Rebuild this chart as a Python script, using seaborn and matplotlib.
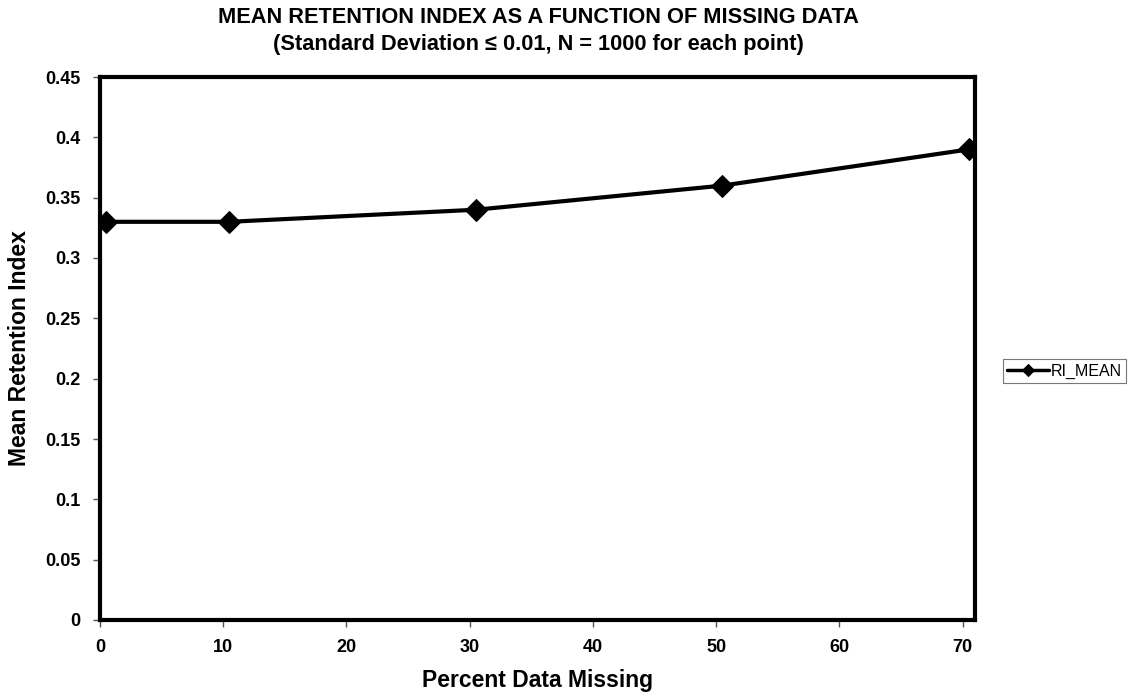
import matplotlib
matplotlib.use("Agg")
import matplotlib.pyplot as plt
import matplotlib.transforms as mtransforms
import seaborn as sns
import pandas as pd

# Data
percent_missing = [0.5, 10.5, 30.5, 50.5, 70.5]
ri_mean = [0.33, 0.33, 0.34, 0.36, 0.39]
x_ticks = [0, 10, 20, 30, 40, 50, 60, 70]
y_ticks = [0, 0.05, 0.1, 0.15, 0.2, 0.25, 0.3, 0.35, 0.4, 0.45]
y_tick_labels = ["0", "0.05", "0.1", "0.15", "0.2", "0.25", "0.3", "0.35", "0.4", "0.45"]

df = pd.DataFrame({"Percent Data Missing": percent_missing, "RI_MEAN": ri_mean})

sns.set_style("white")
plt.rcParams["font.family"] = ["Liberation Sans", "DejaVu Sans"]
plt.rcParams["text.color"] = "black"
plt.rcParams["axes.labelcolor"] = "black"
plt.rcParams["xtick.color"] = "black"
plt.rcParams["ytick.color"] = "black"

fig = plt.figure(figsize=(11.28, 6.96), dpi=100)
ax = fig.add_axes([100 / 1128, 1 - 620 / 696, 875 / 1128, 543 / 696])

sns.lineplot(data=df, x="Percent Data Missing", y="RI_MEAN", ax=ax, color="black",
             linewidth=3, marker="D", markersize=11, markeredgecolor="black",
             label="RI_MEAN")

ax.set_xlim(0, 71)
ax.set_ylim(0, 0.45)
ax.set_xticks(x_ticks)
ax.set_xticklabels([str(t) for t in x_ticks], fontsize=13, fontweight="bold")
ax.set_yticks(y_ticks)
ax.set_yticklabels(y_tick_labels, fontsize=13, fontweight="bold")
offset = mtransforms.ScaledTranslation(6 / 100, 0, fig.dpi_scale_trans)
for lbl in ax.get_xticklabels():
    lbl.set_transform(lbl.get_transform() + offset)

ax.tick_params(axis="both", direction="out", length=5, width=1)
ax.tick_params(axis="x", bottom=True, pad=9)
ax.tick_params(axis="y", left=True, pad=9)
ax.tick_params(axis="both", color="#555555")

for s in ax.spines.values():
    s.set_color("black")
    s.set_linewidth(3)

ax.set_xlabel("Percent Data Missing", fontsize=16.5, fontweight="bold", labelpad=9)
ax.set_ylabel("Mean Retention Index", fontsize=16.5, fontweight="bold", labelpad=10)

fig.text(538 / 1128, 1 - 31 / 696,
         "MEAN RETENTION INDEX AS A FUNCTION OF MISSING DATA\n(Standard Deviation \u2264 0.01, N = 1000 for each point)",
         ha="center", va="center", fontsize=15.7, fontweight="bold", linespacing=1.35)

leg = ax.legend(loc="center left", bbox_to_anchor=(1003 / 1128, 1 - 371 / 696),
                bbox_transform=fig.transFigure, frameon=True, fancybox=False,
                fontsize=11.5, handlelength=2.6, markerscale=0.6, borderpad=0.25,
                handletextpad=0.15, borderaxespad=0)
leg.get_frame().set_edgecolor("#555555")
leg.get_frame().set_linewidth(0.8)
for h in leg.get_lines():
    h.set_linewidth(2.5)

fig.savefig("out.png", dpi=100)
